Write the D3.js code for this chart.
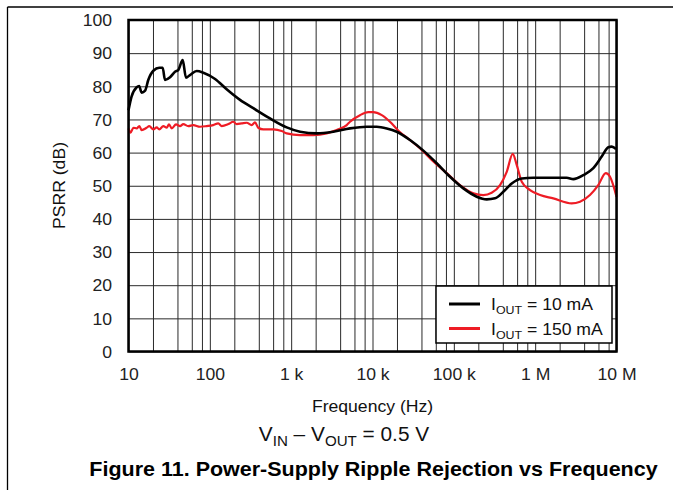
<!DOCTYPE html>
<html><head><meta charset="utf-8">
<script src="https://cdn.jsdelivr.net/npm/d3@7"></script>
<style>
html,body{margin:0;padding:0;background:#fff;}
svg{display:block;font-family:Arial,"Liberation Sans",Helvetica,sans-serif;}
</style></head><body>
<svg id="c" width="673" height="490"></svg>
<script>
// ---------- data ----------
const xTickValues = [10, 100, 1e3, 1e4, 1e5, 1e6, 1e7];
const xTickLabels = ["10", "100", "1 k", "10 k", "100 k", "1 M", "10 M"];
const yTickValues = [0, 10, 20, 30, 40, 50, 60, 70, 80, 90, 100];
const gridMultipliers = [1, 2, 4, 6, 8];

const seriesNames = ["10 mA", "150 mA"];

const freq10 = [10, 10.9, 12.6, 13.5, 14.5, 16.0, 17.5, 20.2, 23.9, 26.3, 28.1, 32.4, 37.3, 40.9, 46.4, 50.9, 57.0, 69.0, 83.2, 116, 161, 235, 342, 549, 881, 1285, 2060, 3300, 5290, 8490, 11270, 14960, 19860, 28900, 42200, 61600, 89800, 131000, 191000, 254000, 321000, 406000, 515000, 684000, 949000, 2.44e6, 2.95e6, 3.91e6, 5.19e6, 6.58e6, 7.93e6, 8.73e6, 9.87e6];
const psrr10 = [72.8, 76.9, 79.7, 80.1, 78.1, 78.7, 81.9, 84.7, 85.6, 85.6, 81.9, 82.7, 84.4, 84.9, 87.9, 82.6, 83.4, 84.6, 84.1, 82.2, 79.1, 75.9, 73.4, 70.3, 67.6, 66.3, 65.8, 66.3, 67.3, 67.8, 67.8, 67.3, 66.3, 63.8, 60.6, 56.8, 52.7, 49.2, 46.7, 45.9, 46.2, 48.2, 50.7, 52.2, 52.4, 52.4, 52.0, 53.2, 55.3, 58.8, 61.6, 61.8, 61.1];

const freq150 = [10, 10.6, 11.5, 12.6, 13.6, 14.5, 16.7, 18.0, 20.2, 22.2, 23.9, 26.8, 29.5, 31.5, 34.0, 38.4, 43.0, 47.2, 54.3, 62.6, 75.7, 91.5, 110, 127, 140, 169, 194, 214, 246, 284, 327, 359, 394, 454, 603, 765, 881, 1285, 1870, 2730, 3630, 4820, 5290, 7020, 8880, 10200, 13000, 16400, 20800, 28900, 40300, 56000, 81700, 119000, 174000, 230000, 292000, 370000, 447000, 530000, 593000, 684000, 865000, 1.15e6, 1.67e6, 2.81e6, 3.56e6, 4.72e6, 5.97e6, 7.38e6, 8.32e6, 1e7];
const psrr150 = [67.3, 66.0, 67.5, 67.3, 68.0, 66.8, 67.5, 68.0, 67.0, 67.6, 67.0, 68.0, 67.5, 68.5, 67.3, 68.5, 68.0, 68.6, 68.0, 68.3, 67.8, 68.0, 68.3, 68.8, 68.0, 68.6, 69.3, 68.6, 68.8, 69.0, 68.3, 69.1, 67.5, 67.0, 67.0, 66.5, 65.8, 65.3, 65.3, 65.8, 66.8, 68.3, 69.3, 71.3, 72.2, 72.2, 71.3, 69.3, 66.6, 63.8, 60.8, 57.3, 53.8, 50.2, 47.7, 47.2, 47.9, 50.2, 54.2, 59.6, 56.3, 51.2, 48.7, 47.2, 46.2, 44.7, 45.2, 47.2, 50.2, 53.8, 52.7, 46.7];

// ---------- layout ----------
const W = 673, H = 490;
const L = 128.5, R = 616.5, T = 20, B = 351.5;
const SX = 1.08; // horizontal text stretch seen in the reference
const svg = d3.select("#c");

const x = d3.scaleLog().domain([10, 1e7]).range([L, R]);
const y = d3.scaleLinear().domain([0, 100]).range([B, T]);

// outer frame lines
svg.append("line").attr("x1", 7.5).attr("x2", W).attr("y1", 7).attr("y2", 7)
  .attr("stroke", "#000").attr("stroke-width", 1.3);
svg.append("line").attr("x1", 7.5).attr("x2", 7.5).attr("y1", 7).attr("y2", H)
  .attr("stroke", "#000").attr("stroke-width", 1.3);

// grid
const gridX = [];
for (let d = 10; d < 1e7; d *= 10) gridMultipliers.forEach(m => gridX.push(d * m));
gridX.push(1e7);

svg.append("g").attr("transform", `translate(0,${B})`)
  .call(d3.axisBottom(x).tickValues(gridX).tickSize(-(B - T)).tickFormat(""))
  .call(g => g.select(".domain").remove())
  .call(g => g.selectAll("line").attr("stroke", "#2a2a2a").attr("stroke-width", 1));
svg.append("g").attr("transform", `translate(${L},0)`)
  .call(d3.axisLeft(y).tickValues(yTickValues).tickSize(-(R - L)).tickFormat(""))
  .call(g => g.select(".domain").remove())
  .call(g => g.selectAll("line").attr("stroke", "#2a2a2a").attr("stroke-width", 1));

// tick labels via axes
function stretchLabels(g, dx, dy, anchor) {
  g.select(".domain").remove();
  g.selectAll(".tick line").remove();
  g.selectAll(".tick text")
    .attr("x", 0).attr("y", 0).attr("dy", "0.35em")
    .attr("text-anchor", anchor)
    .attr("transform", `translate(${dx},${dy}) scale(${SX},1)`)
    .attr("font-size", 16.3).attr("fill", "#222")
    .attr("font-family", "Arial, 'Liberation Sans', sans-serif");
}
svg.append("g").attr("transform", `translate(${L},0)`)
  .call(d3.axisLeft(y).tickValues(yTickValues).tickSize(0).tickFormat(d3.format("d")))
  .call(g => stretchLabels(g, -16.5, 0, "end"));
svg.append("g").attr("transform", `translate(0,${B})`)
  .call(d3.axisBottom(x).tickValues(xTickValues).tickSize(0).tickFormat((d, i) => xTickLabels[i]))
  .call(g => stretchLabels(g, 0, 23, "middle"));

// curves
const line = d3.line().x(d => x(d[0])).y(d => y(d[1])).curve(d3.curveMonotoneX);
const s10 = freq10.map((f, i) => [f, psrr10[i]]);
const s150 = freq150.map((f, i) => [f, psrr150[i]]);
const colors = ["#000000", "#ee1c25"];
const widths = [2.6, 2.2];
svg.append("path").datum(s150).attr("d", line).attr("fill", "none")
  .attr("stroke", colors[1]).attr("stroke-width", widths[1]).attr("stroke-linejoin", "round");
svg.append("path").datum(s10).attr("d", line).attr("fill", "none")
  .attr("stroke", colors[0]).attr("stroke-width", widths[0]).attr("stroke-linejoin", "round");

// plot border
svg.append("rect").attr("x", L).attr("y", T).attr("width", R - L).attr("height", B - T)
  .attr("fill", "none").attr("stroke", "#000").attr("stroke-width", 2.5);

// text helper
function stext(px, py, size, anchor, weight, rot) {
  const g = svg.append("g").attr("transform", `translate(${px},${py})${rot ? ` rotate(${rot})` : ""} scale(${SX},1)`);
  return g.append("text").attr("text-anchor", anchor).attr("font-size", size)
    .attr("font-weight", weight || "normal").attr("fill", "#111");
}
function subText(t, main, sub, rest, subSize) {
  t.append("tspan").text(main);
  t.append("tspan").attr("font-size", subSize).attr("dy", subSize * 0.38).text(sub);
  t.append("tspan").attr("dy", -subSize * 0.38).text(rest);
}

// legend
const lg = { x: 436, y: 286, w: 176, h: 57 };
svg.append("rect").attr("x", lg.x).attr("y", lg.y).attr("width", lg.w).attr("height", lg.h)
  .attr("fill", "#fff").attr("stroke", "#000").attr("stroke-width", 1.5);
seriesNames.forEach((name, i) => {
  const cy = 304 + i * 24.5;
  svg.append("line").attr("x1", 449).attr("x2", 480).attr("y1", cy).attr("y2", cy)
    .attr("stroke", colors[i]).attr("stroke-width", 3);
  const t = stext(491, cy + 6, 16.3, "start");
  subText(t, "I", "OUT", " = " + name, 11.5);
});

// axis titles
stext(59, 185.5, 16.3, "middle", "normal", -90).attr("dy", "0.35em").text("PSRR (dB)");
stext(372.5, 412, 16.3, "middle").text("Frequency (Hz)");
const cond = stext(344, 440.5, 19.3, "middle");
cond.append("tspan").text("V");
cond.append("tspan").attr("font-size", 14).attr("dy", 5).text("IN");
cond.append("tspan").attr("dy", -5).text(" \u2013 V");
cond.append("tspan").attr("font-size", 14).attr("dy", 5).text("OUT");
cond.append("tspan").attr("dy", -5).text(" = 0.5 V");

// figure caption
stext(373.5, 476, 19.9, "middle", "bold").attr("fill", "#000")
  .text("Figure 11. Power-Supply Ripple Rejection vs Frequency");
</script>
</body></html>
